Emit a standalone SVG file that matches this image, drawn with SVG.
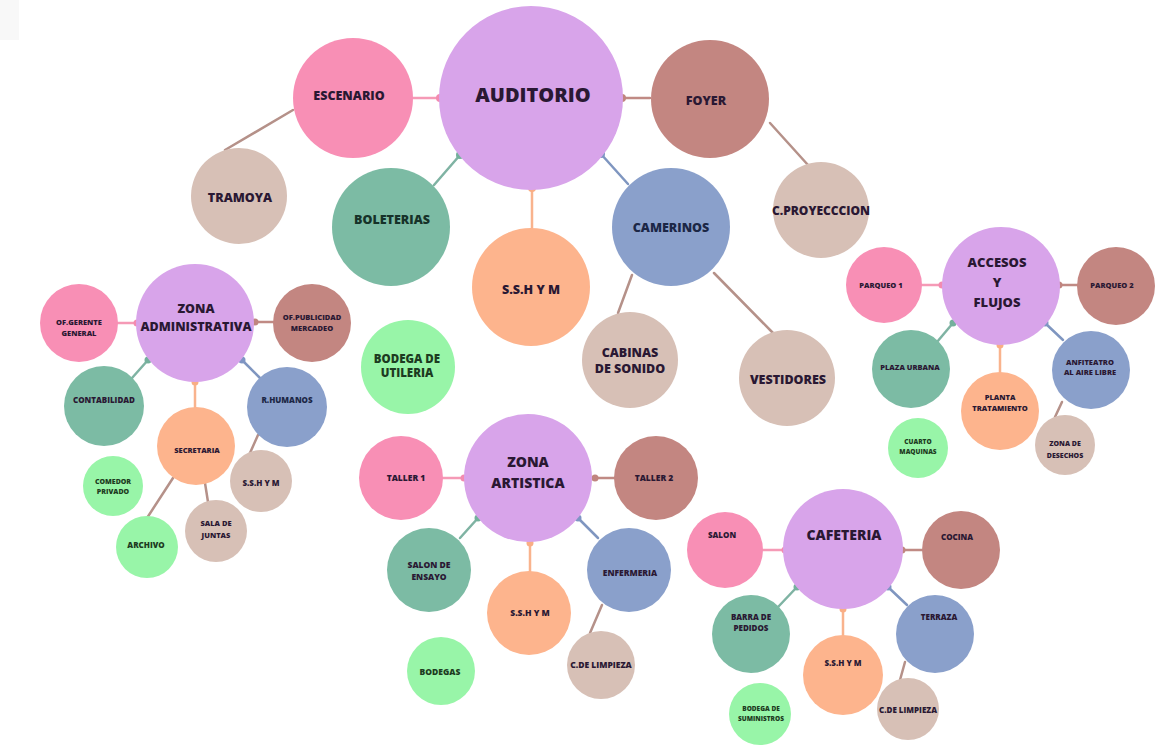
<svg xmlns="http://www.w3.org/2000/svg" width="1168" height="745" viewBox="0 0 1168 745">
<style>
text{font-family:"Open Sans","Liberation Sans",sans-serif;font-weight:800;text-anchor:middle;fill:#2a1833}
.pu{fill:#d8a4ea}.pk{fill:#f88fb5}.ro{fill:#c38681}.ta{fill:#d7c0b6}.te{fill:#7cbba4}.bl{fill:#8aa0cb}.or{fill:#fdb48d}.gr{fill:#98f5a8}
.gt{fill:#1d3b21}.bt{fill:#1c2746}.tt{fill:#163229}
.c line{stroke-width:2.5;stroke-linecap:round}
.lpk{stroke:#f59ab6}.lro{stroke:#c08a84}.lte{stroke:#7fb3a3}.lbl{stroke:#7f96c0}.lor{stroke:#f9b38d}.lbr{stroke:#b59189}
.dpk{fill:#f38bb0}.dro{fill:#c0857f}.dte{fill:#74b09c}.dbl{fill:#7f95c4}.dor{fill:#f9ae85}
</style>
<rect x="0" y="0" width="19" height="40" fill="#f8f8f8"/>
<g id="connectors" class="c">
<!-- auditorio -->
<line class="lpk" x1="412" y1="98" x2="440" y2="98"/><circle class="dpk" cx="440" cy="98" r="4"/>
<line class="lro" x1="622" y1="98" x2="650" y2="98"/><circle class="dro" cx="622" cy="98" r="4"/>
<line class="lte" x1="460" y1="155" x2="434" y2="185"/><circle class="dte" cx="460" cy="155" r="4"/>
<line class="lbl" x1="601" y1="154" x2="628" y2="184"/><circle class="dbl" cx="601" cy="154" r="4"/>
<line class="lor" x1="532" y1="188" x2="532" y2="228"/><circle class="dor" cx="532" cy="188" r="4"/>
<line class="lbr" x1="293" y1="110" x2="225" y2="150"/>
<line class="lbr" x1="770" y1="123" x2="808" y2="165"/>
<line class="lbr" x1="632" y1="275" x2="618" y2="313"/>
<line class="lbr" x1="714" y1="273" x2="773" y2="333"/>
<!-- zona administrativa -->
<line class="lpk" x1="118" y1="323" x2="137" y2="323"/><circle class="dpk" cx="137" cy="323" r="3.5"/>
<line class="lro" x1="255" y1="322" x2="273" y2="322"/><circle class="dro" cx="255" cy="322" r="3.5"/>
<line class="lte" x1="148" y1="360" x2="132" y2="378"/><circle class="dte" cx="148" cy="360" r="3.5"/>
<line class="lbl" x1="242" y1="360" x2="260" y2="378"/><circle class="dbl" cx="242" cy="360" r="3.5"/>
<line class="lor" x1="195" y1="382" x2="195" y2="407"/><circle class="dor" cx="195" cy="382" r="3.5"/>
<line class="lbr" x1="173" y1="478" x2="147" y2="518"/>
<line class="lbr" x1="205" y1="483" x2="208" y2="502"/>
<line class="lbr" x1="258" y1="435" x2="250" y2="453"/>
<!-- accesos -->
<line class="lpk" x1="922" y1="285" x2="942" y2="285"/><circle class="dpk" cx="942" cy="285" r="3.5"/>
<line class="lro" x1="1059" y1="285" x2="1078" y2="285"/><circle class="dro" cx="1059" cy="285" r="3.5"/>
<line class="lte" x1="953" y1="323" x2="937" y2="342"/><circle class="dte" cx="953" cy="323" r="3.5"/>
<line class="lbl" x1="1045" y1="323" x2="1063" y2="340"/><circle class="dbl" cx="1045" cy="323" r="3.5"/>
<line class="lor" x1="1000" y1="345" x2="1000" y2="372"/><circle class="dor" cx="1000" cy="345" r="3.5"/>
<line class="lbr" x1="1062" y1="402" x2="1055" y2="417"/>
<!-- zona artistica -->
<line class="lpk" x1="443" y1="478" x2="464" y2="478"/><circle class="dpk" cx="464" cy="478" r="3.5"/>
<line class="lro" x1="595" y1="478" x2="615" y2="478"/><circle class="dro" cx="595" cy="478" r="3.5"/>
<line class="lte" x1="478" y1="518" x2="460" y2="538"/><circle class="dte" cx="478" cy="518" r="3.5"/>
<line class="lbl" x1="578" y1="518" x2="598" y2="538"/><circle class="dbl" cx="578" cy="518" r="3.5"/>
<line class="lor" x1="530" y1="543" x2="530" y2="572"/><circle class="dor" cx="530" cy="543" r="3.5"/>
<line class="lbr" x1="602" y1="605" x2="590" y2="633"/>
<!-- cafeteria -->
<line class="lpk" x1="763" y1="550" x2="785" y2="550"/><circle class="dpk" cx="785" cy="550" r="3.5"/>
<line class="lro" x1="902" y1="550" x2="922" y2="550"/><circle class="dro" cx="902" cy="550" r="3.5"/>
<line class="lte" x1="797" y1="587" x2="778" y2="607"/><circle class="dte" cx="797" cy="587" r="3.5"/>
<line class="lbl" x1="888" y1="587" x2="907" y2="605"/><circle class="dbl" cx="888" cy="587" r="3.5"/>
<line class="lor" x1="843" y1="609" x2="843" y2="635"/><circle class="dor" cx="843" cy="609" r="3.5"/>
<line class="lbr" x1="905" y1="662" x2="900" y2="680"/>
</g>
<!-- main cluster -->
<g id="auditorio"><circle class="pu" cx="531" cy="98" r="92"/><text x="533" y="102" font-size="20">AUDITORIO</text></g>
<g id="escenario"><circle class="pk" cx="353" cy="98" r="60"/><text x="349" y="99.5" font-size="12.5">ESCENARIO</text></g>
<g id="tramoya"><circle class="ta" cx="239" cy="196" r="48"/><text x="240" y="201.5" font-size="12.5">TRAMOYA</text></g>
<g id="boleterias"><circle class="te" cx="391" cy="227" r="59"/><text class="tt" x="392" y="223.5" font-size="12.5">BOLETERIAS</text></g>
<g id="foyer"><circle class="ro" cx="710" cy="99" r="59"/><text x="706" y="104.5" font-size="12.5">FOYER</text></g>
<g id="c-proyeccion"><circle class="ta" cx="821" cy="210" r="48"/><text x="821" y="215" font-size="12">C.PROYECCCION</text></g>
<g id="camerinos"><circle class="bl" cx="671" cy="227" r="59"/><text class="bt" x="671" y="231.5" font-size="12.5">CAMERINOS</text></g>
<g id="sshm-auditorio"><circle class="or" cx="531" cy="287" r="59"/><text x="531" y="293.5" font-size="12.5">S.S.H Y M</text></g>
<g id="cabinas"><circle class="ta" cx="630" cy="360" r="48"/><text x="630" y="357" font-size="12.5">CABINAS</text><text x="630" y="373" font-size="12.5">DE SONIDO</text></g>
<g id="vestidores"><circle class="ta" cx="787" cy="378" r="48"/><text x="788" y="383.5" font-size="12.5">VESTIDORES</text></g>
<g id="bodega-utileria"><circle class="gr" cx="408" cy="367" r="47"/><text class="gt" x="407" y="363" font-size="11.5">BODEGA DE</text><text class="gt" x="407" y="377" font-size="11.5">UTILERIA</text></g>
<!-- zona administrativa -->
<g id="zona-administrativa"><circle class="pu" cx="195" cy="323" r="59"/><text x="196" y="312.5" font-size="12.5">ZONA</text><text x="196" y="330.5" font-size="12.5">ADMINISTRATIVA</text></g>
<g id="of-gerente"><circle class="pk" cx="79" cy="323" r="39"/><text x="79" y="325" font-size="7.5">OF.GERENTE</text><text x="79" y="336" font-size="7.5">GENERAL</text></g>
<g id="of-publicidad"><circle class="ro" cx="312" cy="323" r="39"/><text x="312" y="320" font-size="7.5">OF.PUBLICIDAD</text><text x="312" y="331" font-size="7.5">MERCADEO</text></g>
<g id="contabilidad"><circle class="te" cx="104" cy="406" r="40"/><text x="104" y="403" font-size="8">CONTABILIDAD</text></g>
<g id="r-humanos"><circle class="bl" cx="287" cy="407" r="40"/><text class="bt" x="287" y="403" font-size="8">R.HUMANOS</text></g>
<g id="secretaria"><circle class="or" cx="196" cy="446" r="39"/><text x="197" y="452.5" font-size="7.5">SECRETARIA</text></g>
<g id="comedor"><circle class="gr" cx="113" cy="486" r="30"/><text class="gt" x="113" y="483.5" font-size="7">COMEDOR</text><text class="gt" x="113" y="493.5" font-size="7">PRIVADO</text></g>
<g id="archivo"><circle class="gr" cx="147" cy="547" r="31"/><text class="gt" x="146" y="548" font-size="8">ARCHIVO</text></g>
<g id="sala-juntas"><circle class="ta" cx="216" cy="531" r="31"/><text x="216" y="525.5" font-size="7.5">SALA DE</text><text x="216" y="537.5" font-size="7.5">JUNTAS</text></g>
<g id="sshm-admin"><circle class="ta" cx="261" cy="481" r="31"/><text x="261" y="486" font-size="8">S.S.H Y M</text></g>
<!-- accesos -->
<g id="accesos"><circle class="pu" cx="1001" cy="286" r="59"/><text x="997" y="266.5" font-size="13">ACCESOS</text><text x="997" y="286.5" font-size="13">Y</text><text x="997" y="306.5" font-size="13">FLUJOS</text></g>
<g id="parqueo1"><circle class="pk" cx="884" cy="285" r="38"/><text x="881" y="287.5" font-size="7.5">PARQUEO 1</text></g>
<g id="parqueo2"><circle class="ro" cx="1116" cy="286" r="39"/><text x="1112" y="287.5" font-size="7.5">PARQUEO 2</text></g>
<g id="plaza-urbana"><circle class="te" cx="911" cy="369" r="39"/><text x="910" y="369.5" font-size="7.5">PLAZA URBANA</text></g>
<g id="planta"><circle class="or" cx="1000" cy="411" r="39"/><text x="1000" y="399.5" font-size="7.5">PLANTA</text><text x="1000" y="410.5" font-size="7.5">TRATAMIENTO</text></g>
<g id="anfiteatro"><circle class="bl" cx="1091" cy="370" r="39"/><text x="1090" y="364.5" font-size="7.5">ANFITEATRO</text><text x="1090" y="374.5" font-size="7.5">AL AIRE LIBRE</text></g>
<g id="cuarto-maquinas"><circle class="gr" cx="918" cy="448" r="30"/><text class="gt" x="918" y="444" font-size="6.5">CUARTO</text><text class="gt" x="918" y="454" font-size="6.5">MAQUINAS</text></g>
<g id="zona-desechos"><circle class="ta" cx="1065" cy="445" r="30"/><text x="1065" y="445.5" font-size="7">ZONA DE</text><text x="1065" y="457.5" font-size="7">DESECHOS</text></g>
<!-- zona artistica -->
<g id="zona-artistica"><circle class="pu" cx="528" cy="478" r="64"/><text x="528" y="467" font-size="14">ZONA</text><text x="528" y="488" font-size="14">ARTISTICA</text></g>
<g id="taller1"><circle class="pk" cx="401" cy="478" r="42"/><text x="406" y="481" font-size="8.5">TALLER 1</text></g>
<g id="taller2"><circle class="ro" cx="656" cy="478" r="42"/><text x="654" y="481" font-size="8.5">TALLER 2</text></g>
<g id="salon-ensayo"><circle class="te" cx="429" cy="570" r="42"/><text x="429" y="568" font-size="8.5">SALON DE</text><text x="429" y="580" font-size="8.5">ENSAYO</text></g>
<g id="sshm-artistica"><circle class="or" cx="529" cy="613" r="42"/><text x="530" y="616" font-size="8.5">S.S.H Y M</text></g>
<g id="enfermeria"><circle class="bl" cx="629" cy="570" r="42"/><text x="630" y="576" font-size="8.5">ENFERMERIA</text></g>
<g id="bodegas"><circle class="gr" cx="441" cy="671" r="34"/><text class="gt" x="440" y="675" font-size="8.5">BODEGAS</text></g>
<g id="limpieza-artistica"><circle class="ta" cx="601" cy="665" r="34"/><text x="601" y="668" font-size="8.5">C.DE LIMPIEZA</text></g>
<!-- cafeteria -->
<g id="cafeteria"><circle class="pu" cx="843" cy="549" r="60"/><text x="844" y="540" font-size="14">CAFETERIA</text></g>
<g id="salon"><circle class="pk" cx="725" cy="550" r="38"/><text x="722" y="538" font-size="8">SALON</text></g>
<g id="cocina"><circle class="ro" cx="961" cy="550" r="39"/><text x="957" y="540" font-size="8">COCINA</text></g>
<g id="barra"><circle class="te" cx="751" cy="634" r="39"/><text x="751" y="620" font-size="8">BARRA DE</text><text x="751" y="631" font-size="8">PEDIDOS</text></g>
<g id="sshm-cafeteria"><circle class="or" cx="843" cy="675" r="40"/><text x="843" y="666" font-size="8">S.S.H Y M</text></g>
<g id="terraza"><circle class="bl" cx="935" cy="634" r="39"/><text x="939" y="620" font-size="8">TERRAZA</text></g>
<g id="bodega-suministros"><circle class="gr" cx="760" cy="714" r="31"/><text class="gt" x="761" y="711" font-size="6.5">BODEGA DE</text><text class="gt" x="761" y="721" font-size="6.5">SUMINISTROS</text></g>
<g id="limpieza-cafeteria"><circle class="ta" cx="908" cy="709" r="31"/><text x="908" y="713" font-size="8">C.DE LIMPIEZA</text></g>
</svg>
